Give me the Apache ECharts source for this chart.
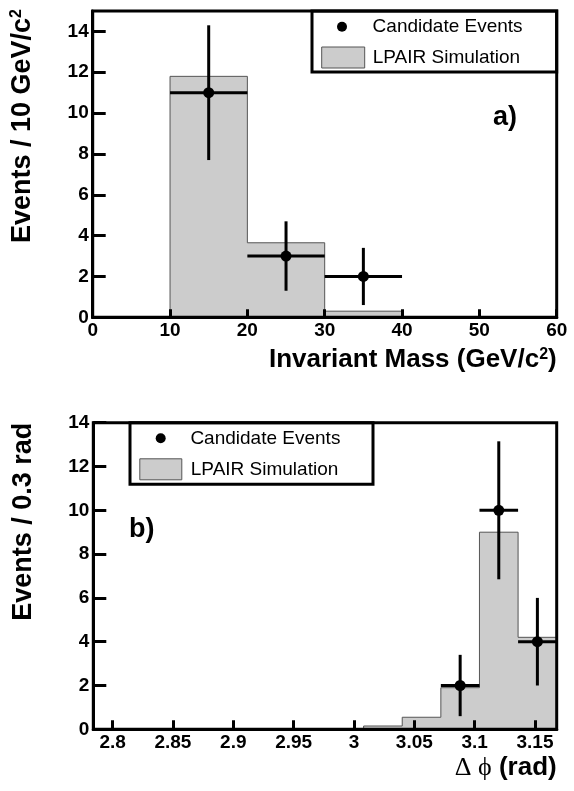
<!DOCTYPE html>
<html><head><meta charset="utf-8">
<script src="https://cdn.jsdelivr.net/npm/echarts@6/dist/echarts.min.js"></script>
<style>html,body{margin:0;padding:0;background:#fff}#c{width:574px;height:791px}</style>
</head><body><div id="c"></div>
<script>
// ---- Panel a): invariant mass ----
const massEdges = [0, 10, 20, 30, 40, 50, 60];
const massSim = [0, 11.8, 3.65, 0.3, 0.03, 0.03];
const massCenters = [15, 25, 35];
const massCounts = [11, 3, 2];
const massErrLow = [7.7, 1.3, 0.6];
const massErrHigh = [14.3, 4.7, 3.4];
const massBinLow = [10, 20, 30];
const massBinHigh = [20, 30, 40];
const massXTicks = [0, 10, 20, 30, 40, 50, 60];
const massYTicks = [0, 2, 4, 6, 8, 10, 12, 14];

// ---- Panel b): delta phi ----
const phiEdges = [2.784, 2.816, 2.848, 2.880, 2.912, 2.944, 2.976, 3.008, 3.040, 3.072, 3.104, 3.136, 3.168];
const phiSim = [0, 0, 0, 0, 0, 0, 0, 0.15, 0.55, 1.9, 9.0, 4.2];
const phiCenters = [3.088, 3.12, 3.152];
const phiCounts = [2, 10, 4];
const phiErrLow = [0.6, 6.85, 2.0];
const phiErrHigh = [3.4, 13.15, 6.0];
const phiBinLow = [3.072, 3.104, 3.136];
const phiBinHigh = [3.104, 3.136, 3.168];
const phiXTicks = [2.8, 2.85, 2.9, 2.95, 3, 3.05, 3.1, 3.15];
const phiYTicks = [0, 2, 4, 6, 8, 10, 12, 14];

const FONT = "'Liberation Sans', Arial, Helvetica, sans-serif";

function stepData(edges, heights) {
  const n = heights.length;
  const d = [[edges[0], 0]];
  for (let i = 0; i < n; i++) d.push([edges[i], heights[i]]);
  d.push([edges[n], heights[n - 1]]);
  d.push([edges[n], 0]);
  return d;
}
function errData(c, v, lo, hi, bl, bh) {
  return c.map((x, i) => [x, v[i], lo[i], hi[i], bl[i], bh[i]]);
}
function errRender(params, api) {
  const x = api.value(0), y = api.value(1);
  const c = api.coord([x, y]);
  const lo = api.coord([x, api.value(2)]);
  const hi = api.coord([x, api.value(3)]);
  const l = api.coord([api.value(4), y]);
  const r = api.coord([api.value(5), y]);
  const st = { stroke: '#000', lineWidth: 3 };
  return { type: 'group', children: [
    { type: 'line', shape: { x1: lo[0], y1: lo[1], x2: hi[0], y2: hi[1] }, style: st },
    { type: 'line', shape: { x1: l[0], y1: l[1], x2: r[0], y2: r[1] }, style: st },
    { type: 'circle', shape: { cx: c[0], cy: c[1], r: 5.5 }, style: { fill: '#000' } }
  ]};
}

const tickLabel = { fontFamily: FONT, fontSize: 19, fontWeight: 'bold', color: '#000' };
const supRich = { sup: { fontFamily: FONT, fontSize: 16, fontWeight: 'bold', color: '#000', verticalAlign: 'top', lineHeight: 16 } };

function yAxisCfg(gridIndex, max, ticks, name, gap) {
  return {
    type: 'value', gridIndex, min: 0, max: max, z: 5,
    name: name, nameLocation: 'end', nameRotate: 90, nameGap: gap, nameMoveOverlap: false,
    nameTextStyle: { fontFamily: FONT, fontSize: 27, fontWeight: 'bold', color: '#000',
      align: 'right', verticalAlign: 'bottom', lineHeight: 28, padding: [0, 0, 56, 0], rich: supRich },
    axisLine: { show: true, lineStyle: { color: '#000', width: 3 } },
    axisTick: { show: true, inside: true, length: 13, lineStyle: { color: '#000', width: 3 }, customValues: ticks },
    axisLabel: Object.assign({ margin: 4, customValues: ticks }, tickLabel),
    splitLine: { show: false }
  };
}
function xAxisCfg(gridIndex, min, max, ticks, name, padTop, tickLen, rich) {
  return {
    type: 'value', gridIndex, min: min, max: max, z: 5,
    name: name, nameLocation: 'end', nameGap: 0, nameMoveOverlap: false,
    nameTextStyle: { fontFamily: FONT, fontSize: 26, fontWeight: 'bold', color: '#000',
      align: 'right', verticalAlign: 'top', lineHeight: 28, padding: [padTop, 0, 0, 0], rich: rich },
    axisLine: { show: true, onZero: false, lineStyle: { color: '#000', width: 3 } },
    axisTick: { show: true, inside: true, length: tickLen, lineStyle: { color: '#000', width: 3 }, customValues: ticks },
    axisLabel: Object.assign({ margin: 4, customValues: ticks }, tickLabel),
    splitLine: { show: false }
  };
}

const legendText = { fontFamily: FONT, fontSize: 19, color: '#000' };

const option = {
  animation: false,
  backgroundColor: '#fff',
  title: [
    { text: 'a)', left: 493, top: 104, padding: 0, textStyle: { fontFamily: FONT, fontSize: 27, fontWeight: 'bold', color: '#000' } },
    { text: 'b)', left: 129, top: 516, padding: 0, textStyle: { fontFamily: FONT, fontSize: 27, fontWeight: 'bold', color: '#000' } }
  ],
  grid: [
    { left: 92.7, right: 17.3, top: 11, bottom: 473.7, show: true, borderColor: '#000', borderWidth: 3, z: 5, outerBoundsMode: 'none', containLabel: false },
    { left: 93.3, right: 17.3, top: 422.7, bottom: 61.7, show: true, borderColor: '#000', borderWidth: 3, z: 5, outerBoundsMode: 'none', containLabel: false }
  ],
  xAxis: [
    xAxisCfg(0, 0, 60, massXTicks, 'Invariant Mass (GeV/c{sup|2})', 29, 8, supRich),
    xAxisCfg(1, 2.784, 3.168, phiXTicks, '{sym|Δ ϕ} (rad)', 25, 9,
      { sym: { fontFamily: "'Liberation Serif', 'DejaVu Serif', serif", fontSize: 26, fontWeight: 'normal', color: '#000' } })
  ],
  yAxis: [
    yAxisCfg(0, 15, massYTicks, 'Events / 10 GeV/c{sup|2}', 2),
    yAxisCfg(1, 14, phiYTicks, 'Events / 0.3 rad', 0)
  ],
  graphic: [
    { type: 'rect', z: 3, shape: { x: 312, y: 11, width: 244.7, height: 61 }, style: { fill: '#fff', stroke: '#000', lineWidth: 3 } },
    { type: 'rect', z: 3, shape: { x: 130, y: 422.7, width: 243, height: 61.6 }, style: { fill: '#fff', stroke: '#000', lineWidth: 3 } }
  ],
  legend: [
    { data: ['Candidate Events'], left: 337, top: 17.2, padding: 0, itemWidth: 10, itemHeight: 10, icon: 'circle',
      itemStyle: { color: '#000' }, textStyle: Object.assign({ padding: [0, 0, 0, 20.6] }, legendText), selectedMode: false, z: 6 },
    { data: ['LPAIR Simulation'], left: 321.2, top: 46.5, padding: 0, itemWidth: 43, itemHeight: 21, icon: 'rect',
      itemStyle: { color: '#cccccc', borderColor: '#555555', borderWidth: 1 }, textStyle: Object.assign({ padding: [0, 0, 0, 3] }, legendText), selectedMode: false, z: 6 },
    { data: ['Candidate Events'], left: 155.7, top: 428.8, padding: 0, itemWidth: 10, itemHeight: 10, icon: 'circle',
      itemStyle: { color: '#000' }, textStyle: Object.assign({ padding: [0, 0, 0, 19.7] }, legendText), selectedMode: false, z: 6 },
    { data: ['LPAIR Simulation'], left: 139.3, top: 458.3, padding: 0, itemWidth: 42, itemHeight: 21, icon: 'rect',
      itemStyle: { color: '#cccccc', borderColor: '#555555', borderWidth: 1 }, textStyle: Object.assign({ padding: [0, 0, 0, 4] }, legendText), selectedMode: false, z: 6 }
  ],
  series: [
    { name: 'LPAIR Simulation', type: 'line', xAxisIndex: 0, yAxisIndex: 0, step: 'end', symbol: 'none', showSymbol: false, z: 1,
      data: stepData(massEdges, massSim),
      lineStyle: { color: '#555555', width: 1 }, itemStyle: { color: '#cccccc' }, areaStyle: { color: '#cccccc', opacity: 1 } },
    { name: 'Candidate Events', type: 'custom', xAxisIndex: 0, yAxisIndex: 0, z: 3,
      renderItem: errRender, encode: { x: [0, 4, 5], y: [1, 2, 3] }, itemStyle: { color: '#000' },
      data: errData(massCenters, massCounts, massErrLow, massErrHigh, massBinLow, massBinHigh) },
    { name: 'LPAIR Simulation', type: 'line', xAxisIndex: 1, yAxisIndex: 1, step: 'end', symbol: 'none', showSymbol: false, z: 1,
      data: stepData(phiEdges, phiSim),
      lineStyle: { color: '#555555', width: 1 }, itemStyle: { color: '#cccccc' }, areaStyle: { color: '#cccccc', opacity: 1 } },
    { name: 'Candidate Events', type: 'custom', xAxisIndex: 1, yAxisIndex: 1, z: 3,
      renderItem: errRender, encode: { x: [0, 4, 5], y: [1, 2, 3] }, itemStyle: { color: '#000' },
      data: errData(phiCenters, phiCounts, phiErrLow, phiErrHigh, phiBinLow, phiBinHigh) }
  ]
};

const chart = echarts.init(document.getElementById('c'), null, { renderer: 'canvas' });
chart.setOption(option);
</script>
</body></html>
